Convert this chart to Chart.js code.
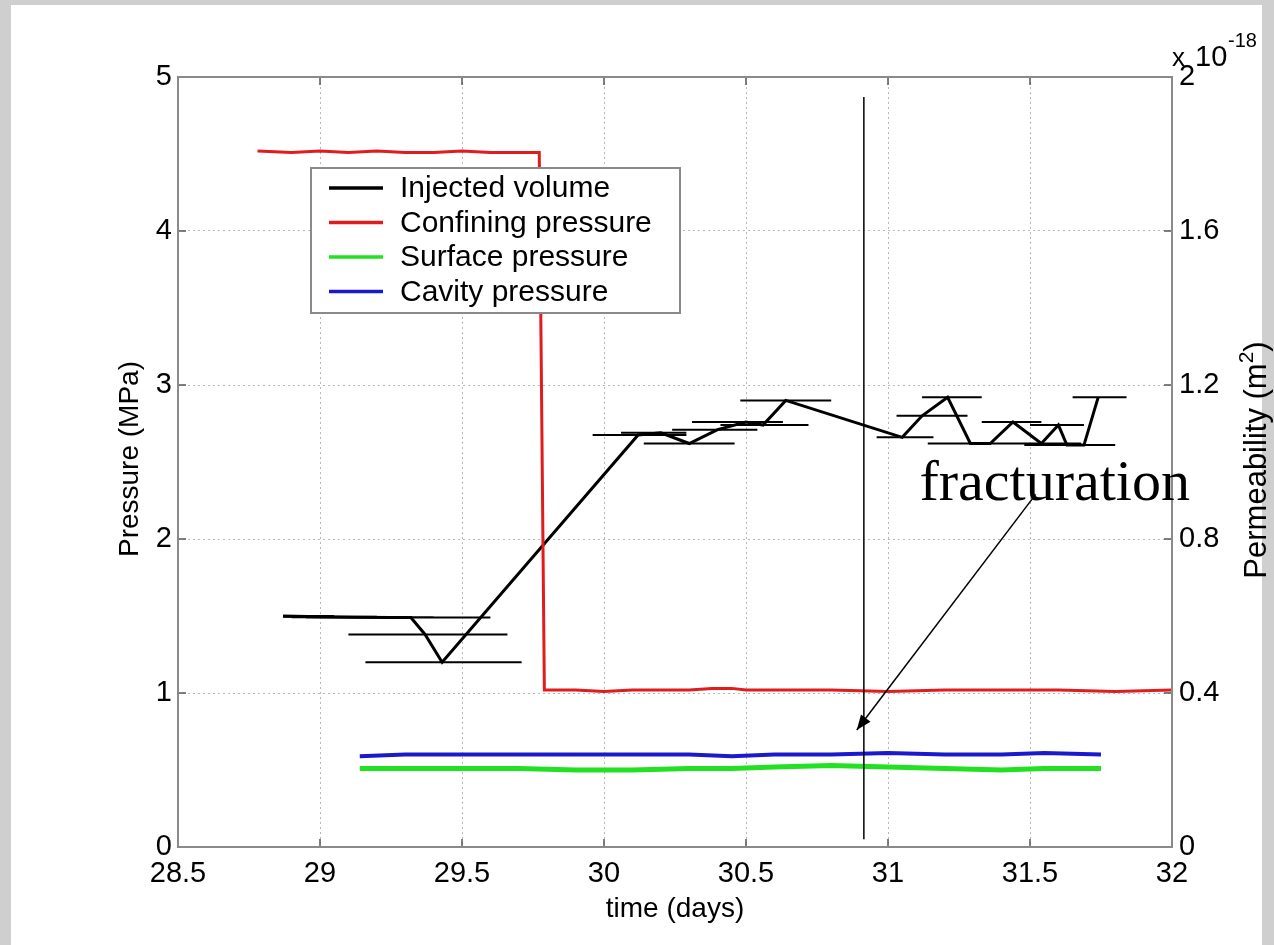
<!DOCTYPE html>
<html>
<head>
<meta charset="utf-8">
<script src="https://cdn.jsdelivr.net/npm/chart.js@4.4.1/dist/chart.umd.min.js"></script>
<style>
  html, body { margin: 0; padding: 0; background: #cbcbcb; }
  #wrap { width: 1274px; height: 945px; position: relative; }
</style>
</head>
<body>
<div id="wrap"><canvas id="c" width="1274" height="945"></canvas></div>
<script>
// ---- data (time in days, pressure in MPa, permeability in 1e-18 m^2) ----
const permTime  = [28.87, 29.00, 29.12, 29.25, 29.32, 29.37, 29.43, 30.12, 30.20, 30.30, 30.40, 30.50, 30.56, 30.64, 31.05, 31.12, 31.21, 31.29, 31.36, 31.44, 31.54, 31.60, 31.63, 31.69, 31.74];
const permValue = [0.600, 0.598, 0.597, 0.596, 0.596, 0.552, 0.480, 1.070, 1.076, 1.048, 1.084, 1.104, 1.096, 1.160, 1.064, 1.120, 1.168, 1.048, 1.048, 1.104, 1.048, 1.096, 1.044, 1.044, 1.168];
const barStart  = [28.87, 28.87, 28.90, 28.95, 29.04, 29.10, 29.16, 29.96, 30.06, 30.14, 30.24, 30.31, 30.41, 30.48, 30.96, 31.03, 31.12, 31.14, 31.20, 31.33, 31.41, 31.50, 31.48, 31.55, 31.65];
const barEnd    = [29.05, 29.20, 29.40, 29.53, 29.60, 29.66, 29.71, 30.29, 30.29, 30.46, 30.54, 30.63, 30.72, 30.80, 31.16, 31.28, 31.33, 31.40, 31.50, 31.54, 31.68, 31.69, 31.78, 31.80, 31.84];

const confTime = [28.78, 28.90, 29.00, 29.10, 29.20, 29.30, 29.40, 29.50, 29.60, 29.70, 29.772, 29.79, 29.90, 30.00, 30.10, 30.20, 30.30, 30.38, 30.45, 30.50, 30.60, 30.80, 31.00, 31.20, 31.40, 31.60, 31.80, 32.00];
const confP    = [4.52, 4.51, 4.52, 4.51, 4.52, 4.51, 4.51, 4.52, 4.51, 4.51, 4.51, 1.02, 1.02, 1.01, 1.02, 1.02, 1.02, 1.03, 1.03, 1.02, 1.02, 1.02, 1.01, 1.02, 1.02, 1.02, 1.01, 1.02];

const presTime = [29.14, 29.30, 29.50, 29.70, 29.90, 30.10, 30.30, 30.45, 30.60, 30.80, 31.00, 31.20, 31.40, 31.55, 31.75];
const surfP    = [0.51, 0.51, 0.51, 0.51, 0.50, 0.50, 0.51, 0.51, 0.52, 0.53, 0.52, 0.51, 0.50, 0.51, 0.51];
const cavP     = [0.59, 0.60, 0.60, 0.60, 0.60, 0.60, 0.60, 0.59, 0.60, 0.60, 0.61, 0.60, 0.60, 0.61, 0.60];

const xTicks  = [28.5, 29, 29.5, 30, 30.5, 31, 31.5, 32];
const yTicks  = [0, 1, 2, 3, 4, 5];
const y2Ticks = [0, 0.4, 0.8, 1.2, 1.6, 2];

const seriesLabels = ['Injected volume', 'Confining pressure', 'Surface pressure', 'Cavity pressure'];
const seriesColors = ['#000000', '#e01c1c', '#22e022', '#1a1acc'];

// annotation: vertical marker and "fracturation" arrow (data units)
const markerTime = 30.915, markerTop = 4.87, markerBottom = 0.05;
const arrowFrom = [31.52, 2.29], arrowTo = [30.89, 0.76];
const noteText = 'fracturation', notePos = [31.10, 2.30];

// ---- build datasets ----
const zip = (xs, ys) => xs.map((x, i) => ({ x, y: ys[i] }));
const barPts = [];
permTime.forEach((t, i) => {
  barPts.push({ x: barStart[i], y: permValue[i] });
  barPts.push({ x: barEnd[i], y: permValue[i] });
  barPts.push({ x: barEnd[i], y: null });
});

const FONT = '"Liberation Sans", Arial, Helvetica, sans-serif';

const chrome = {
  id: 'chrome',
  beforeDraw(chart) {
    const ctx = chart.ctx;
    ctx.save();
    ctx.fillStyle = '#cfcfcf';
    ctx.fillRect(0, 0, chart.width, chart.height);
    ctx.fillStyle = '#ffffff';
    ctx.fillRect(11, 5, 1251, 940);
    ctx.restore();
  },
  afterDraw(chart) {
    const ctx = chart.ctx, a = chart.chartArea;
    const xs = chart.scales.x, ys = chart.scales.y, y2 = chart.scales.y2;
    ctx.save();
    // inward tick marks
    ctx.strokeStyle = '#555';
    ctx.lineWidth = 1.5;
    ctx.beginPath();
    xTicks.forEach(v => {
      const px = xs.getPixelForValue(v);
      ctx.moveTo(px, a.bottom); ctx.lineTo(px, a.bottom - 8);
      ctx.moveTo(px, a.top); ctx.lineTo(px, a.top + 8);
    });
    yTicks.forEach(v => {
      const py = ys.getPixelForValue(v);
      ctx.moveTo(a.left, py); ctx.lineTo(a.left + 8, py);
    });
    y2Ticks.forEach(v => {
      const py = y2.getPixelForValue(v);
      ctx.moveTo(a.right, py); ctx.lineTo(a.right - 8, py);
    });
    ctx.stroke();
    // axes box
    ctx.strokeStyle = '#8a8a8a';
    ctx.lineWidth = 2;
    ctx.strokeRect(a.left, a.top, a.right - a.left, a.bottom - a.top);

    // vertical marker line
    ctx.strokeStyle = '#000';
    ctx.lineWidth = 1.5;
    ctx.beginPath();
    ctx.moveTo(xs.getPixelForValue(markerTime), ys.getPixelForValue(markerTop));
    ctx.lineTo(xs.getPixelForValue(markerTime), ys.getPixelForValue(markerBottom));
    ctx.stroke();

    // arrow
    const x0 = xs.getPixelForValue(arrowFrom[0]), y0 = ys.getPixelForValue(arrowFrom[1]);
    const x1 = xs.getPixelForValue(arrowTo[0]), y1 = ys.getPixelForValue(arrowTo[1]);
    ctx.lineWidth = 1.5;
    ctx.beginPath(); ctx.moveTo(x0, y0); ctx.lineTo(x1, y1); ctx.stroke();
    const ang = Math.atan2(y1 - y0, x1 - x0), L = 16, W = 0.38;
    ctx.fillStyle = '#000';
    ctx.beginPath();
    ctx.moveTo(x1, y1);
    ctx.lineTo(x1 - L * Math.cos(ang - W), y1 - L * Math.sin(ang - W));
    ctx.lineTo(x1 - L * Math.cos(ang + W), y1 - L * Math.sin(ang + W));
    ctx.closePath(); ctx.fill();

    // annotation text
    ctx.font = '58px "Liberation Serif", "Times New Roman", serif';
    ctx.textAlign = 'left'; ctx.textBaseline = 'alphabetic';
    ctx.fillStyle = '#000';
    ctx.fillText(noteText, xs.getPixelForValue(notePos[0]) + 3, ys.getPixelForValue(notePos[1]) + 7);

    // legend
    const lx = 311, ly = 168, lw = 369, lh = 145;
    ctx.fillStyle = '#fff';
    ctx.fillRect(lx, ly, lw, lh);
    ctx.strokeStyle = '#8a8a8a'; ctx.lineWidth = 2;
    ctx.strokeRect(lx, ly, lw, lh);
    ctx.font = '30px ' + FONT;
    ctx.textBaseline = 'middle';
    seriesLabels.forEach((lab, i) => {
      const yy = ly + 20 + i * 34.5;
      ctx.strokeStyle = seriesColors[i]; ctx.lineWidth = 3.5;
      ctx.beginPath(); ctx.moveTo(lx + 18, yy); ctx.lineTo(lx + 72, yy); ctx.stroke();
      ctx.fillStyle = '#000';
      ctx.fillText(lab, lx + 89, yy + 1);
    });

    // axis titles
    ctx.fillStyle = '#000';
    ctx.font = '28px ' + FONT;
    ctx.textAlign = 'center'; ctx.textBaseline = 'alphabetic';
    ctx.fillText('time (days)', (a.left + a.right) / 2, 917);
    ctx.save();
    ctx.translate(138, (a.top + a.bottom) / 2 - 3);
    ctx.rotate(-Math.PI / 2);
    ctx.fillText('Pressure (MPa)', 0, 0);
    ctx.restore();
    ctx.save();
    ctx.translate(1266, 460);
    ctx.rotate(-Math.PI / 2);
    const t1 = 'Permeability (m', t3 = ')';
    ctx.font = '31px ' + FONT;
    const w1 = ctx.measureText(t1).width;
    ctx.font = '21px ' + FONT;
    const w2 = ctx.measureText('2').width;
    ctx.font = '31px ' + FONT;
    const w3 = ctx.measureText(t3).width;
    let sx = -(w1 + w2 + w3) / 2;
    ctx.textAlign = 'left';
    ctx.fillText(t1, sx, 0);
    ctx.font = '21px ' + FONT;
    ctx.fillText('2', sx + w1, -13);
    ctx.font = '31px ' + FONT;
    ctx.fillText(t3, sx + w1 + w2, 0);
    ctx.restore();

    // exponent
    ctx.textAlign = 'left';
    ctx.font = '26px ' + FONT;
    ctx.fillText('x', 1172, 66);
    ctx.font = '29px ' + FONT;
    ctx.fillText('10', 1195, 66);
    ctx.font = '20px ' + FONT;
    ctx.fillText('-18', 1228, 47);
    ctx.restore();
  }
};

const fmt = v => String(Number(v.toFixed(2)));

new Chart(document.getElementById('c'), {
  type: 'scatter',
  data: {
    datasets: [
      { label: 'bars', data: barPts, yAxisID: 'y2', showLine: true, spanGaps: false,
        borderColor: '#000', borderWidth: 2, pointRadius: 0, order: 5 },
      { label: seriesLabels[0], data: zip(permTime, permValue), yAxisID: 'y2', showLine: true,
        borderColor: seriesColors[0], borderWidth: 3, pointRadius: 0, order: 4 },
      { label: seriesLabels[1], data: zip(confTime, confP), yAxisID: 'y', showLine: true,
        borderColor: seriesColors[1], borderWidth: 3, pointRadius: 0, order: 3 },
      { label: seriesLabels[2], data: zip(presTime, surfP), yAxisID: 'y', showLine: true,
        borderColor: seriesColors[2], borderWidth: 5, pointRadius: 0, order: 2 },
      { label: seriesLabels[3], data: zip(presTime, cavP), yAxisID: 'y', showLine: true,
        borderColor: seriesColors[3], borderWidth: 4, pointRadius: 0, order: 1 }
    ]
  },
  options: {
    responsive: false,
    animation: false,
    events: [],
    layout: { padding: { top: 77, left: 0, right: 0, bottom: 0 } },
    plugins: { legend: { display: false }, tooltip: { enabled: false } },
    scales: {
      x: {
        type: 'linear', min: 28.5, max: 32,
        afterBuildTicks: s => { s.ticks = xTicks.map(v => ({ value: v })); },
        afterFit: s => { s.height = 98; },
        ticks: { color: '#000', font: { family: FONT, size: 29 }, padding: 10, maxRotation: 0,
                 callback: v => fmt(v) },
        grid: { color: '#b8b8b8', lineWidth: 1, drawTicks: false },
        border: { display: false, dash: [2, 3] }
      },
      y: {
        position: 'left', min: 0, max: 5,
        afterBuildTicks: s => { s.ticks = yTicks.map(v => ({ value: v })); },
        afterFit: s => { s.width = 178; },
        ticks: { color: '#000', font: { family: FONT, size: 29 }, padding: 6, callback: v => fmt(v) },
        grid: { color: '#b8b8b8', lineWidth: 1, drawTicks: false },
        border: { display: false, dash: [2, 3] }
      },
      y2: {
        position: 'right', min: 0, max: 2,
        afterBuildTicks: s => { s.ticks = y2Ticks.map(v => ({ value: v })); },
        afterFit: s => { s.width = 102; },
        ticks: { color: '#000', font: { family: FONT, size: 29 }, padding: 7, callback: v => fmt(v) },
        grid: { drawOnChartArea: false, drawTicks: false },
        border: { display: false }
      }
    }
  },
  plugins: [chrome]
});
</script>
</body>
</html>
